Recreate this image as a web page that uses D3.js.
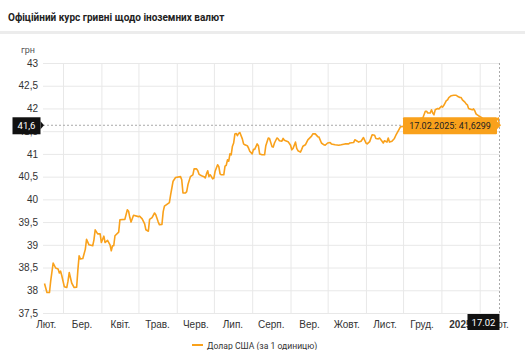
<!DOCTYPE html>
<html>
<head>
<meta charset="utf-8">
<script src="https://cdn.jsdelivr.net/npm/d3@7"></script>
<style>
  body { margin: 0; background: #fff; font-family: Roboto, "Noto Sans", sans-serif; }
</style>
</head>
<body>
<div id="chart"></div>
<script>
// data: NBU rate, USD (days counted from startDate)
var startDate = "2024-02-15";
var endDate = "2025-02-17";
var dayOffsets = [0, 2, 4, 5, 7, 9, 11, 12, 13, 14, 16, 18, 19, 20, 22, 24, 26, 27, 28, 29,
  31, 33, 34, 36, 39, 40, 41, 43, 45, 46, 48, 49, 51, 53, 54, 55, 56, 57, 60, 61,
  65, 67, 68, 69, 70, 72, 76, 77, 79, 81, 82, 84, 85, 87, 89, 90, 92, 93, 95, 96,
  97, 101, 102, 103, 104, 106, 110, 111, 112, 114, 115, 116, 118, 120, 121, 123, 124, 125, 127, 129,
  130, 131, 132, 133, 134, 135, 136, 137, 138, 140, 141, 142, 143, 145, 146, 147, 148, 149, 150, 151,
  152, 153, 154, 155, 156, 157, 158, 160, 161, 162, 164, 165, 166, 168, 169, 170, 172, 173, 174, 176,
  178, 179, 181, 182, 184, 185, 186, 188, 189, 190, 192, 193, 194, 197, 199, 200, 201, 203, 204, 205,
  207, 208, 209, 211, 213, 216, 217, 219, 221, 222, 224, 226, 227, 229, 231, 232, 235, 238, 240, 243,
  246, 247, 250, 251, 253, 254, 256, 258, 260, 261, 263, 265, 267, 268, 270, 271, 273, 274, 275, 277,
  278, 279, 281, 283, 284, 286, 287, 288, 289, 295, 300, 304, 306, 308, 309, 310, 312, 313, 314, 315,
  316, 318, 319, 321, 322, 323, 325, 326, 327, 329, 331, 333, 334, 336, 337, 338, 340, 341, 342, 343,
  344, 346, 347, 348, 349, 350, 351, 353, 356, 360, 364, 366, 367, 368];
var rates = [38.15, 37.95, 37.95, 38.2, 38.6, 38.49, 38.47, 38.38, 38.42, 38.32, 38.08, 38.06, 38.2, 38.39, 38.16, 38.06, 38.07, 38.45, 38.76, 38.69,
  38.7, 38.9, 39.12, 39.0, 38.98, 39.11, 39.33, 39.24, 39.24, 39.05, 39.19, 39.05, 39.1, 39.0, 38.87, 38.98, 38.98, 39.2, 39.28, 39.55,
  39.56, 39.77, 39.74, 39.6, 39.5, 39.65, 39.62, 39.63, 39.57, 39.46, 39.33, 39.3, 39.56, 39.6, 39.7, 39.66, 39.5, 39.44, 39.45, 39.73,
  39.85, 39.93, 40.1, 40.25, 40.4, 40.48, 40.5, 40.43, 40.14, 40.14, 40.17, 40.32, 40.5, 40.54, 40.67, 40.67, 40.63, 40.55, 40.52, 40.5,
  40.47, 40.56, 40.63, 40.5, 40.54, 40.5, 40.45, 40.47, 40.62, 40.76, 40.72, 40.56, 40.54, 40.54, 40.73, 40.75, 40.87, 40.84, 41.0, 40.98,
  41.17, 41.24, 41.44, 41.45, 41.4, 41.45, 41.47, 41.33, 41.22, 41.2, 41.18, 41.13, 41.06, 41.0, 41.1, 41.1, 41.22, 41.18, 41.0, 40.98,
  40.98, 41.18, 41.35, 41.34, 41.16, 41.15, 41.24, 41.35, 41.33, 41.29, 41.28, 41.34, 41.3, 41.27, 41.19, 41.09, 41.12, 41.26, 41.12, 41.07,
  41.04, 41.1, 41.17, 41.2, 41.31, 41.39, 41.44, 41.44, 41.38, 41.37, 41.24, 41.2, 41.19, 41.24, 41.25, 41.22, 41.2, 41.19, 41.2, 41.22,
  41.22, 41.24, 41.25, 41.31, 41.28, 41.26, 41.28, 41.36, 41.24, 41.22, 41.27, 41.42, 41.41, 41.34, 41.33, 41.35, 41.28, 41.24, 41.29, 41.26,
  41.35, 41.26, 41.28, 41.34, 41.4, 41.5, 41.55, 41.6, 41.6, 41.66, 41.72, 41.78, 41.79, 41.94, 41.94, 41.9, 41.9, 41.97, 41.9, 41.86,
  41.97, 42.0, 41.99, 42.05, 42.03, 42.07, 42.17, 42.19, 42.24, 42.28, 42.29, 42.29, 42.27, 42.24, 42.24, 42.19, 42.14, 42.1, 42.08, 42.0,
  41.99, 41.97, 41.99, 41.95, 41.88, 41.86, 41.84, 41.81, 41.74, 41.7, 41.72, 41.75, 41.79, 41.6299];

var yTicks = [37.5, 38, 38.5, 39, 39.5, 40, 40.5, 41, 41.5, 42, 42.5, 43];
var monthLabels = ["Лют.", "Бер.", "Квіт.", "Трав.", "Черв.", "Лип.", "Серп.", "Вер.", "Жовт.", "Лист.", "Груд.", "2025", "Лют."];
var lastDateLabel = "17.02.2025";
var lastAxisLabel = "17.02";
var seriesName = "Долар США (за 1 одиницю)";

var W = 525, H = 350;
var orange = "#f9a11b";
var fmtComma = function(v) { return String(v).replace(".", ","); };

var svg = d3.select("#chart").append("svg")
    .attr("width", W)
    .attr("height", H)
    .style("font-family", "Roboto, sans-serif");

// title + separator
svg.append("text")
    .attr("x", 8).attr("y", 21)
    .style("font-size", "10px").style("font-weight", "bold")
    .attr("fill", "#222")
    .text("Офіційний курс гривні щодо іноземних валют");
svg.append("rect")
    .attr("x", 0).attr("y", 31).attr("width", W).attr("height", 3)
    .attr("fill", "#ececec");
svg.append("text")
    .attr("x", 21).attr("y", 53)
    .style("font-size", "9px").attr("fill", "#555")
    .text("грн");

var parse = d3.timeParse("%Y-%m-%d");
var t0 = parse(startDate), t1 = parse(endDate);
var data = dayOffsets.map(function(d, i) {
    return { date: d3.timeDay.offset(t0, d), value: rates[i] };
});

var x = d3.scaleTime().domain([t0, t1]).range([44.5, 499.5]);
var y = d3.scaleLinear().domain([37.5, 43]).range([313, 63]);
var left = 43, right = 500;

// horizontal grid + y labels
var yAxis = svg.append("g")
    .attr("transform", "translate(" + left + ",0)")
    .call(d3.axisLeft(y).tickValues(yTicks).tickSize(-(right - left)).tickPadding(5).tickFormat(fmtComma));
yAxis.select(".domain").remove();
yAxis.selectAll("line").attr("stroke", "#e8e8e8");
yAxis.selectAll("text").style("font-size", "10px").attr("fill", "#333");

// vertical grid at month starts
var monthStarts = d3.timeMonth.range(d3.timeMonth.ceil(t0), t1);
var xGrid = svg.append("g")
    .attr("transform", "translate(0," + y(37.5) + ")")
    .call(d3.axisBottom(x).tickValues(monthStarts).tickSize(-(y(37.5) - y(43))).tickFormat(""));
xGrid.select(".domain").remove();
xGrid.selectAll("line").attr("stroke", "#e8e8e8");

// month labels (mid month)
var labelDates = d3.timeMonth.range(d3.timeMonth.floor(t0), t1).map(function(m) { return d3.timeDay.offset(m, 15); });
var xAxis = svg.append("g")
    .attr("transform", "translate(0," + y(37.5) + ")")
    .call(d3.axisBottom(x).tickValues(labelDates).tickSize(0).tickPadding(8)
        .tickFormat(function(d, i) { return monthLabels[i]; }));
xAxis.select(".domain").remove();
xAxis.selectAll("text").style("font-size", "10px").attr("fill", "#333")
    .style("font-weight", function(d, i) { return monthLabels[i] === "2025" ? "bold" : null; });

// line
var line = d3.line()
    .x(function(d) { return x(d.date); })
    .y(function(d) { return y(d.value); });
svg.append("path")
    .datum(data)
    .attr("d", line)
    .attr("fill", "none")
    .attr("stroke", orange)
    .attr("stroke-width", 1.6)
    .attr("stroke-linejoin", "round");

// crosshair on last point
var last = data[data.length - 1];
var cx = x(last.date), cy = y(last.value);
svg.append("line")
    .attr("x1", left).attr("x2", cx).attr("y1", cy).attr("y2", cy)
    .attr("stroke", "#aaa").attr("stroke-dasharray", "2,2");
svg.append("line")
    .attr("x1", cx).attr("x2", cx).attr("y1", y(43)).attr("y2", y(37.5))
    .attr("stroke", "#aaa").attr("stroke-dasharray", "2,2");

// tooltip
svg.append("path")
    .attr("d", "M497," + (cy - 4) + "L501," + cy + "L497," + (cy + 4) + "Z")
    .attr("fill", orange);
svg.append("rect")
    .attr("x", 403).attr("y", cy - 8).attr("width", 94).attr("height", 17)
    .attr("fill", orange).attr("rx", 1);
svg.append("text")
    .attr("x", 450).attr("y", cy + 3.5)
    .attr("text-anchor", "middle")
    .style("font-size", "9px").attr("fill", "#222")
    .text(lastDateLabel + ": " + fmtComma(last.value));

// y crosshair label
svg.append("path")
    .attr("d", "M40.5," + (cy - 4) + "L44," + cy + "L40.5," + (cy + 4) + "Z")
    .attr("fill", "#111");
svg.append("rect")
    .attr("x", 12.5).attr("y", cy - 8).attr("width", 28).attr("height", 17)
    .attr("fill", "#111");
svg.append("text")
    .attr("x", 26.5).attr("y", cy + 3.5)
    .attr("text-anchor", "middle")
    .style("font-size", "9.5px").attr("fill", "#fff")
    .text(fmtComma(d3.format(".1f")(last.value)));

// x crosshair label
svg.append("rect")
    .attr("x", cx - 32).attr("y", 314).attr("width", 32).attr("height", 16)
    .attr("fill", "#111");
svg.append("text")
    .attr("x", cx - 16).attr("y", 325.5)
    .attr("text-anchor", "middle")
    .style("font-size", "9.5px").attr("fill", "#fff")
    .text(lastAxisLabel);

// legend
svg.append("line")
    .attr("x1", 192).attr("x2", 203).attr("y1", 345).attr("y2", 345)
    .attr("stroke", orange).attr("stroke-width", 2);
svg.append("text")
    .attr("x", 207).attr("y", 348.5)
    .style("font-size", "8.6px").attr("fill", "#333")
    .text(seriesName);
</script>
</body>
</html>
